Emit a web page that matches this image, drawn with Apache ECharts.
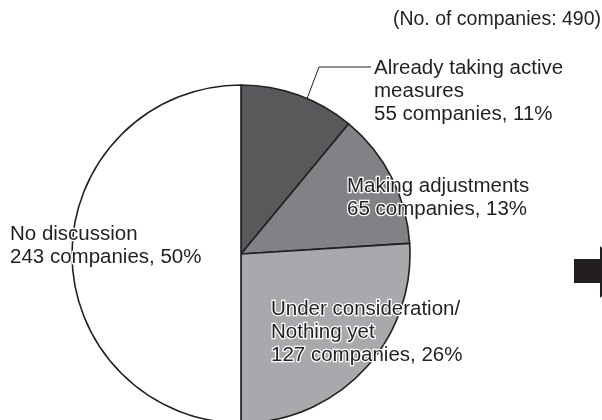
<!DOCTYPE html>
<html>
<head>
<meta charset="utf-8">
<script src="https://cdn.jsdelivr.net/npm/echarts@6/dist/echarts.min.js"></script>
<style>
  html, body { margin: 0; padding: 0; background: #fff; }
  #chart { width: 602px; height: 420px; }
</style>
</head>
<body>
<div id="chart"></div>
<script>
// Survey response categories, clockwise from 12 o'clock
const categories = [
  'Already taking active\nmeasures',
  'Making adjustments',
  'Under consideration/\nNothing yet',
  'No discussion'
];
const companyCounts = [55, 65, 127, 243];
const sharePercent = [11, 13, 26, 50];
const totalCompanies = 490;

const sliceColors = ['#58595b', '#808285', '#a7a9ac', '#ffffff'];
const ink = '#231f20';
const fontFamily = '"Liberation Sans", Arial, Helvetica, sans-serif';

// Where each slice's caption sits (top-left corner of the text block)
const labelPlacement = [
  { x: 374, y: 57, line: [[302, 112], [319, 67], [371, 67]] },
  { x: 347, y: 175 },
  { x: 271, y: 298 },
  { x: 10, y: 223 }
];

const chart = echarts.init(document.getElementById('chart'), null, { renderer: 'canvas' });

chart.setOption({
  backgroundColor: '#ffffff',
  animation: false,
  title: {
    text: '(No. of companies: ' + totalCompanies + ')',
    right: 1,
    top: 10,
    padding: 0,
    textStyle: { fontFamily, fontSize: 19.5, fontWeight: 'normal', color: ink }
  },
  series: [{
    type: 'pie',
    center: [241, 254],
    radius: 169,
    startAngle: 90,
    clockwise: true,
    avoidLabelOverlap: false,
    silent: true,
    itemStyle: { borderColor: ink, borderWidth: 1.6 },
    label: {
      show: true,
      position: 'outside',
      alignTo: 'none',
      fontFamily,
      fontSize: 20.5,
      lineHeight: 23,
      color: ink,
      textBorderColor: '#ffffff',
      textBorderWidth: 2.5,
      formatter: p => p.name + '\n' + companyCounts[p.dataIndex] + ' companies, ' + p.value + '%'
    },
    labelLine: { show: false, lineStyle: { color: ink, width: 1 } },
    labelLayout: params => {
      const pl = labelPlacement[params.dataIndex];
      const out = { x: pl.x, y: pl.y, align: 'left', verticalAlign: 'top' };
      if (pl.line) out.labelLinePoints = pl.line;
      return out;
    },
    data: categories.map((name, i) => ({
      name,
      value: sharePercent[i],
      itemStyle: { color: sliceColors[i] },
      labelLine: { show: i === 0 }
    }))
  }],
  graphic: [
    // arrow pointing to the next panel
    {
      type: 'polygon',
      silent: true,
      shape: { points: [[574, 259], [600, 259], [600, 246], [627, 272], [600, 298], [600, 283], [574, 283]] },
      style: { fill: ink }
    }
  ]
});
</script>
</body>
</html>
